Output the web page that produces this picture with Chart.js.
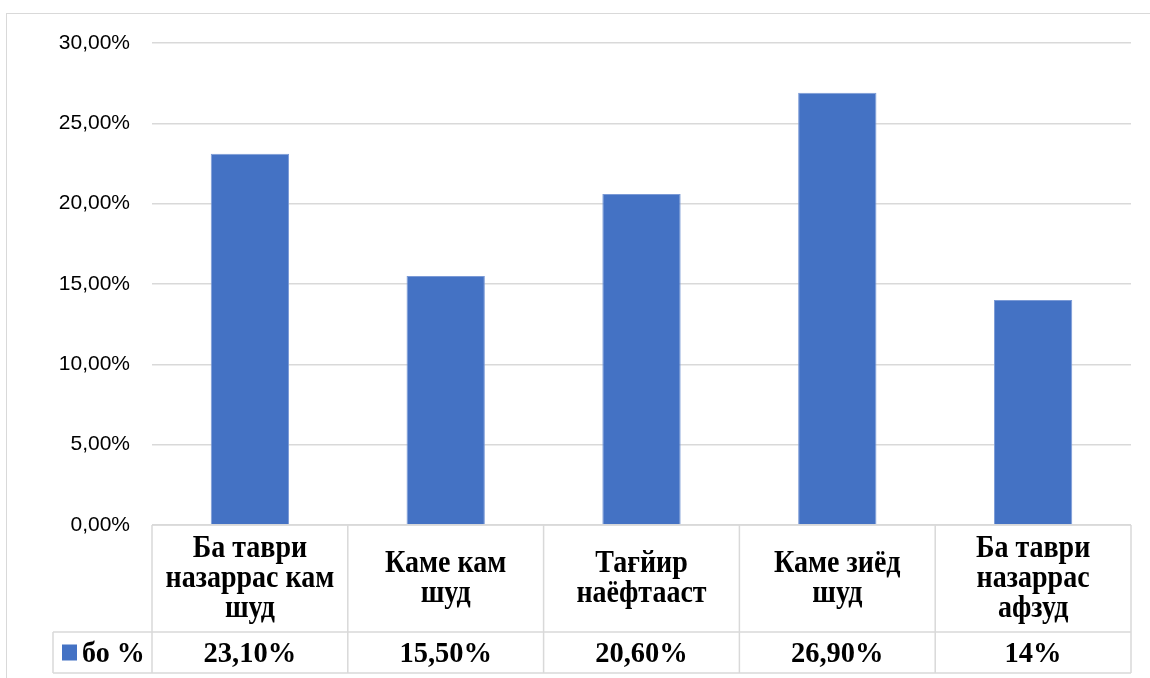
<!DOCTYPE html>
<html>
<head>
<meta charset="utf-8">
<script src="https://cdn.jsdelivr.net/npm/chart.js@4.4.0/dist/chart.umd.min.js"></script>
<style>
html, body { margin: 0; padding: 0; background: #fff; }
#wrap { position: relative; width: 1150px; height: 678px; overflow: hidden; }
#frame { position: absolute; left: 6px; top: 13px; width: 1160px; height: 700px; border: 1.5px solid #d9d9d9; box-sizing: border-box; }
#myChart { position: absolute; left: 0; top: 0; }
</style>
</head>
<body>
<div id="wrap">
  <div id="frame"></div>
  <canvas id="myChart" width="1150" height="678"></canvas>
</div>
<script>
// categories, split into the lines used in the data table
const categories = [
    ['Ба таври', 'назаррас кам', 'шуд'],
    ['Каме кам', 'шуд'],
    ['Тағйир', 'наёфтааст'],
    ['Каме зиёд', 'шуд'],
    ['Ба таври', 'назаррас', 'афзуд']
];
const seriesName = 'бо %';
const values = [23.1, 15.5, 20.6, 26.9, 14.0];
const tableValues = ['23,10%', '15,50%', '20,60%', '26,90%', '14%'];
const yMax = 30;
const yStep = 5;

const barColor = '#4472c4';
const lineColor = '#d9d9d9';

// text drawn a bit taller than wide, like the stretched Excel picture
function tallText(ctx, t, x, y, sy) {
    ctx.save();
    ctx.translate(x, y);
    ctx.scale(1, sy);
    ctx.fillText(t, 0, 0);
    ctx.restore();
}

// data table under the plot (Excel style)
const dataTable = {
    id: 'dataTable',
    afterDraw(chart) {
        const ctx = chart.ctx;
        const x = chart.scales.x;
        const area = chart.chartArea;
        const colW = (area.right - area.left) / categories.length;
        const top = area.bottom;
        const mid = top + 107;
        const bottom = mid + 41;
        const legendLeft = 53;

        ctx.save();
        ctx.strokeStyle = lineColor;
        ctx.lineWidth = 1.5;
        ctx.beginPath();
        ctx.moveTo(area.left, top); ctx.lineTo(area.right, top);
        ctx.moveTo(legendLeft, mid); ctx.lineTo(area.right, mid);
        ctx.moveTo(legendLeft, bottom); ctx.lineTo(area.right, bottom);
        ctx.moveTo(legendLeft, mid); ctx.lineTo(legendLeft, bottom);
        for (let i = 0; i <= categories.length; i++) {
            const px = area.left + i * colW;
            ctx.moveTo(px, top); ctx.lineTo(px, bottom);
        }
        ctx.stroke();

        ctx.fillStyle = '#000';
        ctx.textAlign = 'center';
        ctx.textBaseline = 'alphabetic';
        const lineH = 30;
        const labelBase = top + 62;
        const valueBase = bottom - 11;
        categories.forEach((lines, i) => {
            const cx = x.getPixelForValue(i);
            ctx.font = 'bold 28px "Liberation Serif", serif';
            lines.forEach((t, j) => {
                const by = labelBase + (j - (lines.length - 1) / 2) * lineH;
                tallText(ctx, t, cx, by, 1.12);
            });
            ctx.font = 'bold 28.5px "Liberation Serif", serif';
            tallText(ctx, tableValues[i], cx, valueBase, 1.05);
        });

        // legend key
        const ry = (mid + bottom) / 2;
        ctx.fillStyle = barColor;
        ctx.fillRect(62, ry - 8, 15, 16);
        ctx.fillStyle = '#000';
        ctx.textAlign = 'left';
        ctx.font = 'bold 28px "Liberation Serif", serif';
        tallText(ctx, seriesName, 82, valueBase, 1.05);
        ctx.restore();
    }
};

const ctx = document.getElementById('myChart').getContext('2d');
const myChart = new Chart(ctx, {
    type: 'bar',
    data: {
        labels: categories.map(c => c.join(' ')),
        datasets: [{
            label: seriesName,
            data: values,
            backgroundColor: barColor,
            borderColor: '#7b9ad6',
            borderWidth: 1,
            barPercentage: 0.4,
            categoryPercentage: 1
        }]
    },
    options: {
        responsive: false,
        animation: false,
        layout: { padding: { left: 0, right: 19, top: 43, bottom: 153 } },
        plugins: {
            legend: { display: false },
            tooltip: { enabled: false }
        },
        scales: {
            x: { display: false },
            y: {
                min: 0,
                max: yMax,
                afterFit(scale) { scale.width = 152; },
                ticks: {
                    stepSize: yStep,
                    padding: 22,
                    color: '#000',
                    font: { family: '"Liberation Sans", sans-serif', size: 21 },
                    callback: v => v.toFixed(2).replace('.', ',') + '%'
                },
                grid: { color: lineColor, lineWidth: 1.5, drawTicks: false },
                border: { display: false }
            }
        }
    },
    plugins: [dataTable]
});
</script>
</body>
</html>
